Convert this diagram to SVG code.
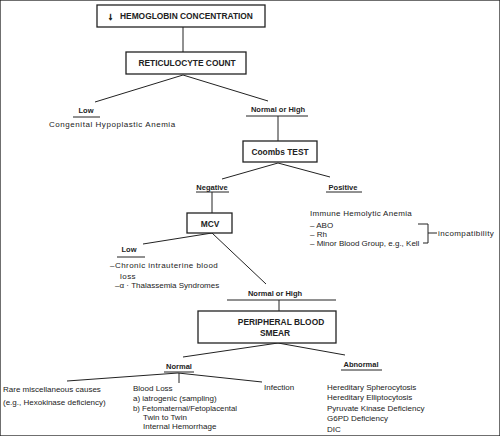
<svg xmlns="http://www.w3.org/2000/svg" width="500" height="436" viewBox="0 0 500 436">
<style>
text{font-family:"Liberation Sans",Arial,sans-serif;font-size:8px;fill:#222}
.b{font-weight:bold;font-size:8.4px}
.h{font-weight:bold;font-size:7.5px}
.m{text-anchor:middle}
rect{fill:#fff;stroke:#222;stroke-width:1.3}
line,polyline{stroke:#222;stroke-width:1;fill:none}
</style>
<rect width="500" height="436" fill="#fff" stroke="none"/>
<g id="connectors">
<line x1="183" y1="27" x2="183" y2="52"/>
<line x1="183" y1="75" x2="95" y2="102"/>
<line x1="183" y1="75" x2="268" y2="101"/>
<line x1="278" y1="116" x2="278" y2="141"/>
<line x1="278" y1="163" x2="222" y2="179"/>
<line x1="278" y1="163" x2="330" y2="177"/>
<line x1="212" y1="192" x2="212" y2="213"/>
<line x1="212" y1="233" x2="143" y2="244"/>
<line x1="212" y1="233" x2="266" y2="284"/>
<line x1="279" y1="300" x2="279" y2="311"/>
<line x1="278" y1="343" x2="183" y2="357"/>
<line x1="278" y1="343" x2="345" y2="355"/>
<line x1="178" y1="373" x2="67" y2="381"/>
<line x1="179" y1="373" x2="179" y2="383"/>
<line x1="178" y1="373" x2="262" y2="382"/>
<polyline points="418,224 428,224 428,243 423,243"/>
<line x1="428" y1="233" x2="437" y2="233"/>
</g>
<g id="hemoglobin">
<rect x="97" y="5" width="168" height="22"/>
<text x="108" y="20" class="b" style="font-size:10px;stroke:#222;stroke-width:0.7">↓</text>
<text x="120" y="19" class="b">HEMOGLOBIN CONCENTRATION</text>
</g>
<g id="reticulocyte">
<rect x="126" y="52" width="120" height="22"/>
<text x="187" y="66" class="b m">RETICULOCYTE COUNT</text>
</g>
<g id="low1">
<text x="86" y="113" class="h m">Low</text>
<line x1="73" y1="117" x2="100" y2="117"/>
<text x="49" y="127" style="letter-spacing:0.55px">Congenital Hypoplastic Anemia</text>
</g>
<g id="normalhigh1">
<text x="278" y="112" class="h m">Normal or High</text>
<line x1="246" y1="116" x2="308" y2="116"/>
</g>
<g id="coombs">
<rect x="243" y="141" width="74" height="21"/>
<text x="280" y="155" class="b m">Coombs TEST</text>
</g>
<g id="negative">
<text x="212" y="190" class="h m">Negative</text>
<line x1="196" y1="192" x2="229" y2="192"/>
</g>
<g id="positive">
<text x="343" y="190" class="h m">Positive</text>
<line x1="326" y1="192" x2="362" y2="192"/>
</g>
<g id="immune">
<text x="310" y="216" style="letter-spacing:0.3px">Immune Hemolytic Anemia</text>
<text x="310" y="228">– ABO</text>
<text x="310" y="237">– Rh</text>
<text x="310" y="246">– Minor Blood Group, e.g., Kell</text>
<text x="438" y="236" style="letter-spacing:0.4px">incompatibility</text>
</g>
<g id="mcv">
<rect x="187" y="213" width="45" height="20"/>
<text x="210" y="227" class="b m">MCV</text>
</g>
<g id="low2">
<text x="129" y="252" class="h m">Low</text>
<line x1="117" y1="257" x2="145" y2="257"/>
<text x="110" y="268" style="letter-spacing:0.45px">–Chronic intrauterine blood</text>
<text x="120" y="279" style="letter-spacing:0.45px">loss</text>
<text x="115" y="288">–α · Thalassemia Syndromes</text>
</g>
<g id="normalhigh2">
<text x="275" y="296" class="h m">Normal or High</text>
<line x1="227" y1="300" x2="336" y2="300"/>
</g>
<g id="smear">
<rect x="198" y="311" width="138" height="32"/>
<text x="281" y="325" class="b m">PERIPHERAL BLOOD</text>
<text x="275" y="336" class="b m">SMEAR</text>
</g>
<g id="normal">
<text x="179" y="369" class="h m">Normal</text>
<line x1="164" y1="372" x2="194" y2="372"/>
</g>
<g id="abnormal">
<text x="361" y="367" class="h m">Abnormal</text>
<line x1="341" y1="370" x2="382" y2="370"/>
</g>
<g id="rare">
<text x="3" y="392">Rare miscellaneous causes</text>
<text x="3" y="405">(e.g., Hexokinase deficiency)</text>
</g>
<g id="bloodloss">
<text x="133" y="391">Blood Loss</text>
<text x="133" y="401">a) iatrogenic (sampling)</text>
<text x="133" y="411" style="font-size:7.8px">b) Fetomaternal/Fetoplacental</text>
<text x="143" y="420">Twin to Twin</text>
<text x="143" y="429">Internal Hemorrhage</text>
</g>
<g id="infection">
<text x="264" y="390">Infection</text>
</g>
<g id="abnormal-list">
<text x="327" y="390">Hereditary Spherocytosis</text>
<text x="327" y="400">Hereditary Elliptocytosis</text>
<text x="327" y="411">Pyruvate Kinase Deficiency</text>
<text x="327" y="421">G6PD Deficiency</text>
<text x="327" y="432">DIC</text>
</g>
</svg>
